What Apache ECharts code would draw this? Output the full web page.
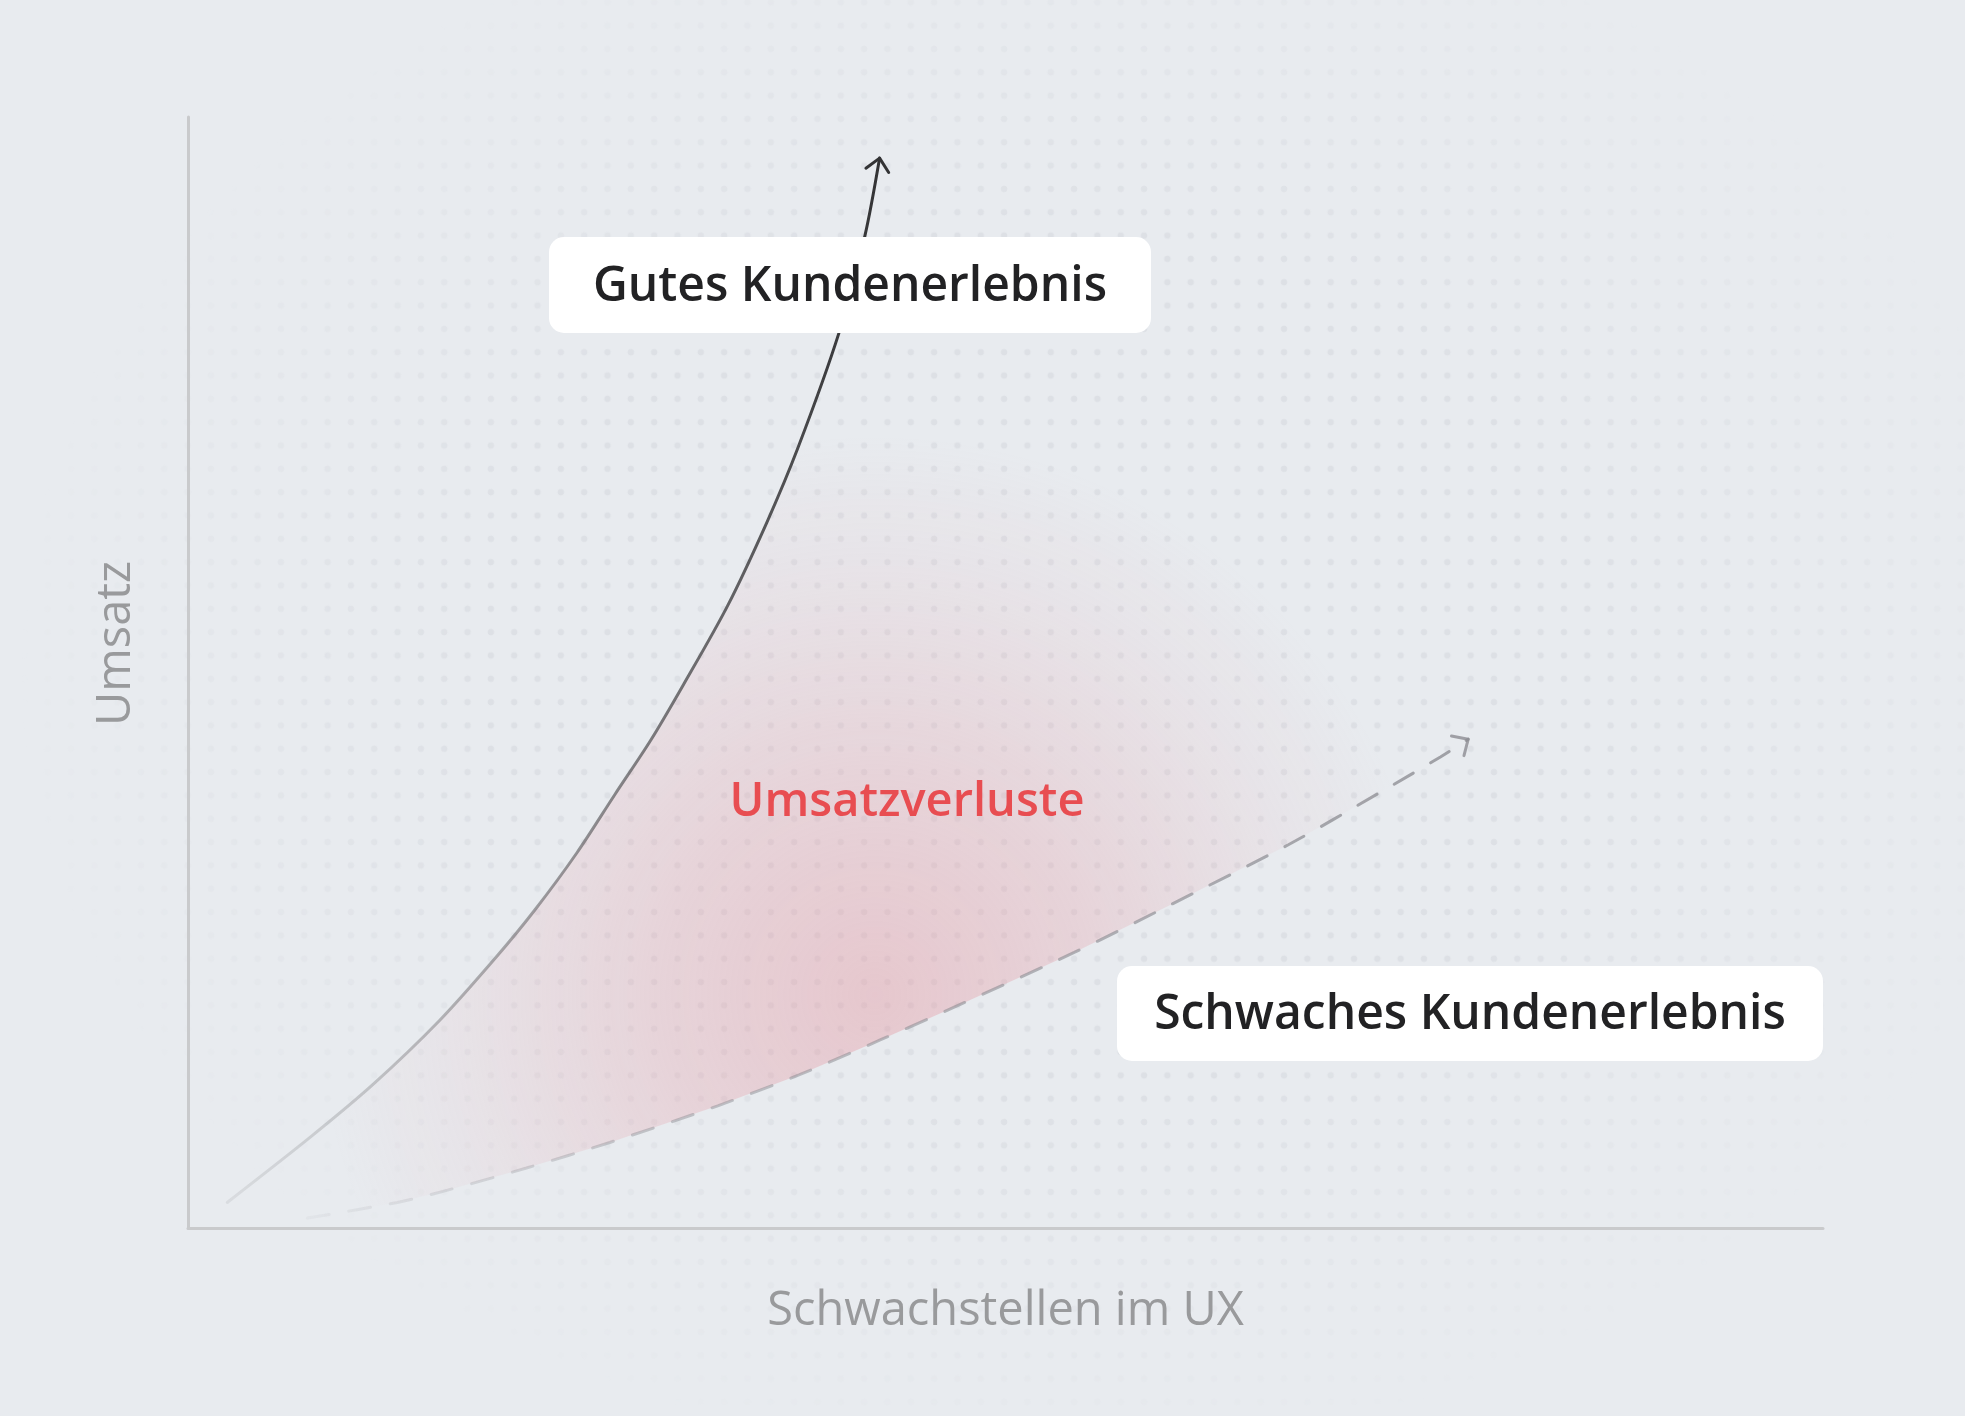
<!DOCTYPE html>
<html>
<head>
<meta charset="utf-8">
<title>Umsatz vs Schwachstellen im UX</title>
<script src="https://cdn.jsdelivr.net/npm/echarts@6/dist/echarts.min.js"></script>
<style>
  html, body { margin: 0; padding: 0; background: #e8ebef; }
  #dots {
    position: absolute; left: 0; top: 0; width: 1965px; height: 1416px;
    background-image: radial-gradient(circle at center, #dde0e5 0, #dde0e5 3px, rgba(221,224,229,0) 3.6px);
    background-size: 23.33px 23.33px;
    background-position: -10.7px -9.4px;
    -webkit-mask-image: radial-gradient(ellipse 52% 56% at 53% 47%, #000 55%, rgba(0,0,0,0) 100%);
    mask-image: radial-gradient(ellipse 52% 56% at 53% 47%, #000 55%, rgba(0,0,0,0) 100%);
  }
  #chart { position: absolute; left: 0; top: 0; width: 1965px; height: 1416px; }
</style>
</head>
<body>
<div id="dots"></div>
<div id="chart"></div>
<script>
// curve "Gutes Kundenerlebnis" (x = Schwachstellen, y = Umsatz, 0..100)
const goodX = [2.4, 7.5, 11.3, 15.4, 18.8, 21.2, 23.8, 26.1, 28.3, 30.3, 33.0, 35.4, 37.3, 39.8, 41.4, 42.3];
const goodY = [2.3, 8.2, 12.9, 18.7, 24.3, 28.6, 33.8, 39.0, 43.9, 48.9, 56.0, 63.5, 70.2, 80.5, 89.3, 96.3];

// curve "Schwaches Kundenerlebnis"
const weakX = [7.3, 12.8, 15.6, 20.7, 25.8, 32.4, 37.4, 42.3, 47.2, 54.2, 60.1, 67.3, 72.9, 76.6, 78.3];
const weakY = [0.9, 2.3, 3.3, 5.4, 7.7, 11.0, 13.8, 16.9, 20.1, 24.8, 29.1, 34.5, 39.2, 42.4, 44.0];

// labels
const axisNames = { x: "Schwachstellen im UX", y: "Umsatz" };
const labelGood = "Gutes Kundenerlebnis";
const labelWeak = "Schwaches Kundenerlebnis";
const labelLoss = "Umsatzverluste";

const zip = (xs, ys) => xs.map((x, i) => [x, ys[i]]);
const FONT = "'Open Sans', Lato, sans-serif";

const chart = echarts.init(document.getElementById("chart"));

// open chevron at the end of a curve
function arrowItem(xs, ys, color, len) {
  return function (params, api) {
    const n = xs.length;
    const tip = api.coord([xs[n - 1], ys[n - 1]]);
    const prev = api.coord([xs[n - 2], ys[n - 2]]);
    const back = Math.atan2(prev[1] - tip[1], prev[0] - tip[0]);
    const spread = 0.75;
    const p1 = [tip[0] + len * Math.cos(back - spread), tip[1] + len * Math.sin(back - spread)];
    const p2 = [tip[0] + len * Math.cos(back + spread), tip[1] + len * Math.sin(back + spread)];
    return {
      type: "polyline",
      shape: { points: [p1, tip, p2] },
      style: { stroke: color, lineWidth: 3, fill: null, lineCap: "round", lineJoin: "round" },
      z2: 10
    };
  };
}

// red zone between both curves
function lossZone(params, api) {
  const pts = [];
  goodX.forEach((x, i) => pts.push(api.coord([x, goodY[i]])));
  pts.push(api.coord([100, 100]));
  pts.push(api.coord([100, weakY[weakY.length - 1]]));
  for (let i = weakX.length - 1; i >= 0; i--) pts.push(api.coord([weakX[i], weakY[i]]));
  const c = api.coord([42, 21]);
  return {
    type: "polygon",
    shape: { points: pts },
    style: {
      fill: new echarts.graphic.RadialGradient(c[0], c[1], 560, [
        { offset: 0, color: "rgba(228,150,160,0.42)" },
        { offset: 0.4, color: "rgba(228,150,160,0.27)" },
        { offset: 0.75, color: "rgba(228,150,160,0.09)" },
        { offset: 1, color: "rgba(228,150,160,0)" }
      ], true)
    }
  };
}

const axisCommon = {
  type: "value",
  min: 0,
  max: 100,
  axisLine: { show: true, lineStyle: { color: "#c9cacc", width: 3 } },
  axisTick: { show: false },
  axisLabel: { show: false },
  splitLine: { show: false },
  nameLocation: "middle"
};

const option = {
  backgroundColor: "transparent",
  animation: false,
  grid: { left: 188, right: 142, top: 117, bottom: 188 },
  xAxis: Object.assign({}, axisCommon, {
    name: axisNames.x,
    nameGap: 60,
    nameTextStyle: { color: "#999a9c", fontSize: 47, fontFamily: FONT }
  }),
  yAxis: Object.assign({}, axisCommon, {
    name: axisNames.y,
    nameGap: 48,
    nameRotate: 90,
    nameTextStyle: { color: "#999a9c", fontSize: 47, fontFamily: FONT, padding: [0, 0, 0, 58] }
  }),
  series: [
    {
      type: "custom",
      renderItem: lossZone,
      data: [[0, 0]],
      silent: true,
      z: 1
    },
    {
      type: "line",
      data: zip(goodX, goodY),
      smooth: 0.3,
      showSymbol: false,
      z: 3,
      lineStyle: {
        width: 3,
        cap: "round",
        color: new echarts.graphic.LinearGradient(0, 1, 0, 0, [
          { offset: 0, color: "rgba(60,60,62,0.08)" },
          { offset: 0.2, color: "rgba(60,60,62,0.35)" },
          { offset: 0.5, color: "rgba(60,60,62,0.7)" },
          { offset: 0.8, color: "rgba(51,51,53,0.95)" },
          { offset: 1, color: "#333335" }
        ])
      }
    },
    {
      type: "line",
      data: zip(weakX, weakY),
      smooth: 0.3,
      showSymbol: false,
      z: 3,
      lineStyle: {
        width: 3,
        type: [22, 20],
        cap: "round",
        color: new echarts.graphic.LinearGradient(0, 0, 1, 0, [
          { offset: 0, color: "rgba(140,140,146,0.06)" },
          { offset: 0.3, color: "rgba(140,140,146,0.45)" },
          { offset: 1, color: "rgba(140,140,146,0.8)" }
        ])
      }
    },
    {
      type: "custom",
      renderItem: arrowItem(goodX, goodY, "#333335", 17),
      data: [[0, 0]],
      silent: true,
      z: 4
    },
    {
      type: "custom",
      renderItem: arrowItem(weakX, weakY, "rgba(140,140,146,0.8)", 17),
      data: [[0, 0]],
      silent: true,
      z: 4
    }
  ],
  graphic: [
    { type: "rect", z: 100, shape: { x: 549, y: 237, width: 602, height: 96, r: 15 }, style: { fill: "#ffffff" } },
    {
      type: "text", z: 101,
      style: {
        text: labelGood, x: 850, y: 287, align: "center", verticalAlign: "middle",
        fill: "#222224", fontSize: 48, fontWeight: 600, fontFamily: FONT
      }
    },
    { type: "rect", z: 100, shape: { x: 1117, y: 966, width: 706, height: 95, r: 15 }, style: { fill: "#ffffff" } },
    {
      type: "text", z: 101,
      style: {
        text: labelWeak, x: 1470, y: 1015, align: "center", verticalAlign: "middle",
        fill: "#222224", fontSize: 48, fontWeight: 600, fontFamily: FONT
      }
    },
    {
      type: "text", z: 101,
      style: {
        text: labelLoss, x: 907, y: 803, align: "center", verticalAlign: "middle",
        fill: "#e84d51", fontSize: 47, fontWeight: 600, fontFamily: FONT
      }
    }
  ]
};

chart.setOption(option);
</script>
</body>
</html>
